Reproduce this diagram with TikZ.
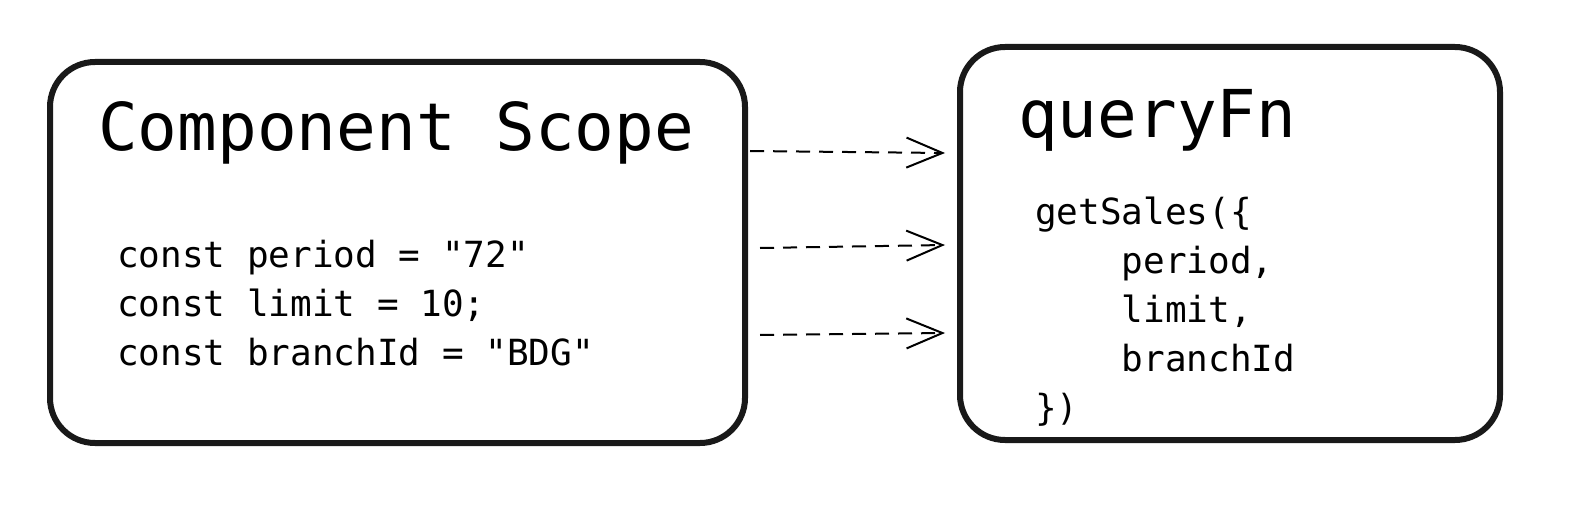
\documentclass[tikz,border=0pt]{standalone}
\usepackage{fontspec}
\setmonofont{DejaVu Sans Mono}
\usetikzlibrary{arrows.meta}
\begin{document}
\begin{tikzpicture}[x=1pt,y=-1pt,
  box/.style={line width=6pt,rounded corners=45pt,draw=black!90},
  title/.style={font=\ttfamily\fontsize{66}{66}\selectfont,anchor=base west,inner sep=0},
  code/.style={font=\ttfamily\fontsize{36}{49}\selectfont,anchor=north west,inner sep=0,align=left},
  arr/.style={line width=2pt,dash pattern=on 14pt off 9pt,-{Straight Barb[length=36pt,width=30pt,line width=2pt]}}]
\useasboundingbox (0,0) rectangle (1590,516);
\draw[box] (50,62) rectangle (745,443);
\draw[box] (960,47) rectangle (1500,440);
\node[title] (t1) at (98,150) {Component Scope};
\node[title] (t2) at (1018,138) {queryFn};
\node[code] (c1) at (117,240) {const period = "72"\\const limit = 10;\\const branchId = "BDG"};
\node[code] (c2) at (1035,197) {getSales(\{\\\ \ \ \ period,\\\ \ \ \ limit,\\\ \ \ \ branchId\\\})};
\coordinate (a1) at (750,151); \coordinate (b1) at (945,153);
\coordinate (a2) at (760,248); \coordinate (b2) at (945,245);
\coordinate (a3) at (760,335); \coordinate (b3) at (945,333);
\draw[arr] (a1) -- (b1);
\draw[arr] (a2) -- (b2);
\draw[arr] (a3) -- (b3);
\end{tikzpicture}
\end{document}
